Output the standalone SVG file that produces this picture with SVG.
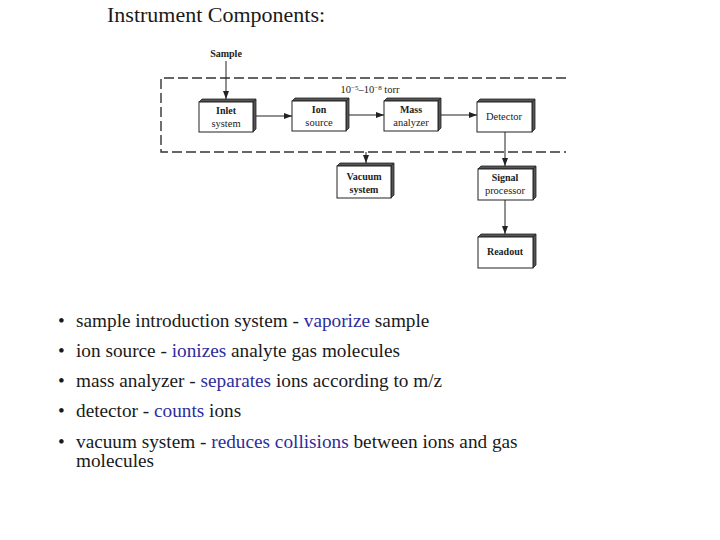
<svg xmlns="http://www.w3.org/2000/svg" width="720" height="540" viewBox="0 0 720 540">
<style>
.face{fill:#fff;stroke:#222;stroke-width:1}
.side{fill:#555;stroke:#222;stroke-width:0.8}
.lbl{font-family:"Liberation Serif",serif;font-size:10.5px;fill:#222;text-anchor:middle}
.b{font-weight:bold;font-size:10px}
.con{stroke:#222;stroke-width:1;fill:none}
.dash{stroke:#333;stroke-width:1.4;fill:none;stroke-dasharray:10,4}
.bul{font-family:"Liberation Serif",serif;font-size:19.25px;fill:#1a1a1a}
.blue{fill:#2d2d9c}
</style>
<defs>
<marker id="ah" viewBox="0 0 8 6" refX="8" refY="3" markerWidth="8" markerHeight="6" markerUnits="userSpaceOnUse" orient="auto">
<path d="M0,0 L8,3 L0,6 Z" fill="#222"/>
</marker>
</defs>
<rect width="720" height="540" fill="#fff"/>
<text x="107" y="22" font-family="Liberation Serif,serif" font-size="22" fill="#1a1a1a">Instrument Components:</text>

<g id="vacuum-region">
<path class="dash" d="M566,78 L161,78 L161,152 L566,152"/>
<text class="lbl" x="370" y="93">10<tspan font-size="7" dy="-3.5">−5</tspan><tspan dy="3.5">–10</tspan><tspan font-size="7" dy="-3.5">−8</tspan><tspan dy="3.5"> torr</tspan></text>
</g>

<g id="sample"><text class="lbl b" x="226" y="57">Sample</text></g>

<g id="inlet">
<path class="side" d="M199,102 L202,99 L256,99 L253,102 Z"/>
<path class="side" d="M253,102 L256,99 L256,129 L253,132 Z"/>
<rect class="face" x="199" y="102" width="54" height="30"/>
<text class="lbl b" x="226" y="114">Inlet</text><text class="lbl" x="226" y="127">system</text>
</g>
<g id="ion">
<path class="side" d="M292,101 L295,98 L349,98 L346,101 Z"/>
<path class="side" d="M346,101 L349,98 L349,128 L346,131 Z"/>
<rect class="face" x="292" y="101" width="54" height="30"/>
<text class="lbl b" x="319" y="113">Ion</text><text class="lbl" x="319" y="126">source</text>
</g>
<g id="mass">
<path class="side" d="M384,101 L387,98 L441,98 L438,101 Z"/>
<path class="side" d="M438,101 L441,98 L441,128 L438,131 Z"/>
<rect class="face" x="384" y="101" width="54" height="30"/>
<text class="lbl b" x="411" y="113">Mass</text><text class="lbl" x="411" y="126">analyzer</text>
</g>
<g id="detector">
<path class="side" d="M477,102 L480,99 L535,99 L532,102 Z"/>
<path class="side" d="M532,102 L535,99 L535,129 L532,132 Z"/>
<rect class="face" x="477" y="102" width="55" height="30"/>
<text class="lbl" x="504" y="120">Detector</text>
</g>
<g id="vacuum">
<path class="side" d="M337,166 L340,163 L394,163 L391,166 Z"/>
<path class="side" d="M391,166 L394,163 L394,195 L391,198 Z"/>
<rect class="face" x="337" y="166" width="54" height="32"/>
<text class="lbl b" x="364" y="180">Vacuum</text><text class="lbl b" x="364" y="193">system</text>
</g>
<g id="signal">
<path class="side" d="M478,169 L481,166 L536,166 L533,169 Z"/>
<path class="side" d="M533,169 L536,166 L536,197 L533,200 Z"/>
<rect class="face" x="478" y="169" width="55" height="31"/>
<text class="lbl b" x="505" y="181">Signal</text><text class="lbl" x="505" y="194">processor</text>
</g>
<g id="readout">
<path class="side" d="M478,237 L481,234 L536,234 L533,237 Z"/>
<path class="side" d="M533,237 L536,234 L536,265 L533,268 Z"/>
<rect class="face" x="478" y="237" width="55" height="31"/>
<text class="lbl b" x="505" y="255">Readout</text>
</g>

<g id="connectors">
<line class="con" x1="226" y1="61" x2="226" y2="99" marker-end="url(#ah)"/>
<line class="con" x1="256" y1="116" x2="292" y2="116" marker-end="url(#ah)"/>
<line class="con" x1="349" y1="115" x2="384" y2="115" marker-end="url(#ah)"/>
<line class="con" x1="441" y1="115" x2="477" y2="115" marker-end="url(#ah)"/>
<line class="con" x1="505" y1="132" x2="505" y2="166" marker-end="url(#ah)"/>
<line class="con" x1="366" y1="152" x2="366" y2="163" marker-end="url(#ah)"/>
<line class="con" x1="505" y1="200" x2="505" y2="234" marker-end="url(#ah)"/>
</g>

<g id="bullets">
<g class="bul">
<text x="58" y="327">•</text>
<text x="76" y="327">sample introduction system - <tspan class="blue">vaporize</tspan> sample</text>
<text x="58" y="357">•</text>
<text x="76" y="357">ion source - <tspan class="blue">ionizes</tspan> analyte gas molecules</text>
<text x="58" y="387">•</text>
<text x="76" y="387">mass analyzer - <tspan class="blue">separates</tspan> ions according to m/z</text>
<text x="58" y="417">•</text>
<text x="76" y="417">detector - <tspan class="blue">counts</tspan> ions</text>
<text x="58" y="448">•</text>
<text x="76" y="448">vacuum system - <tspan class="blue">reduces collisions</tspan> between ions and gas</text>
<text x="76" y="467">molecules</text>
</g>
</g>
</svg>
